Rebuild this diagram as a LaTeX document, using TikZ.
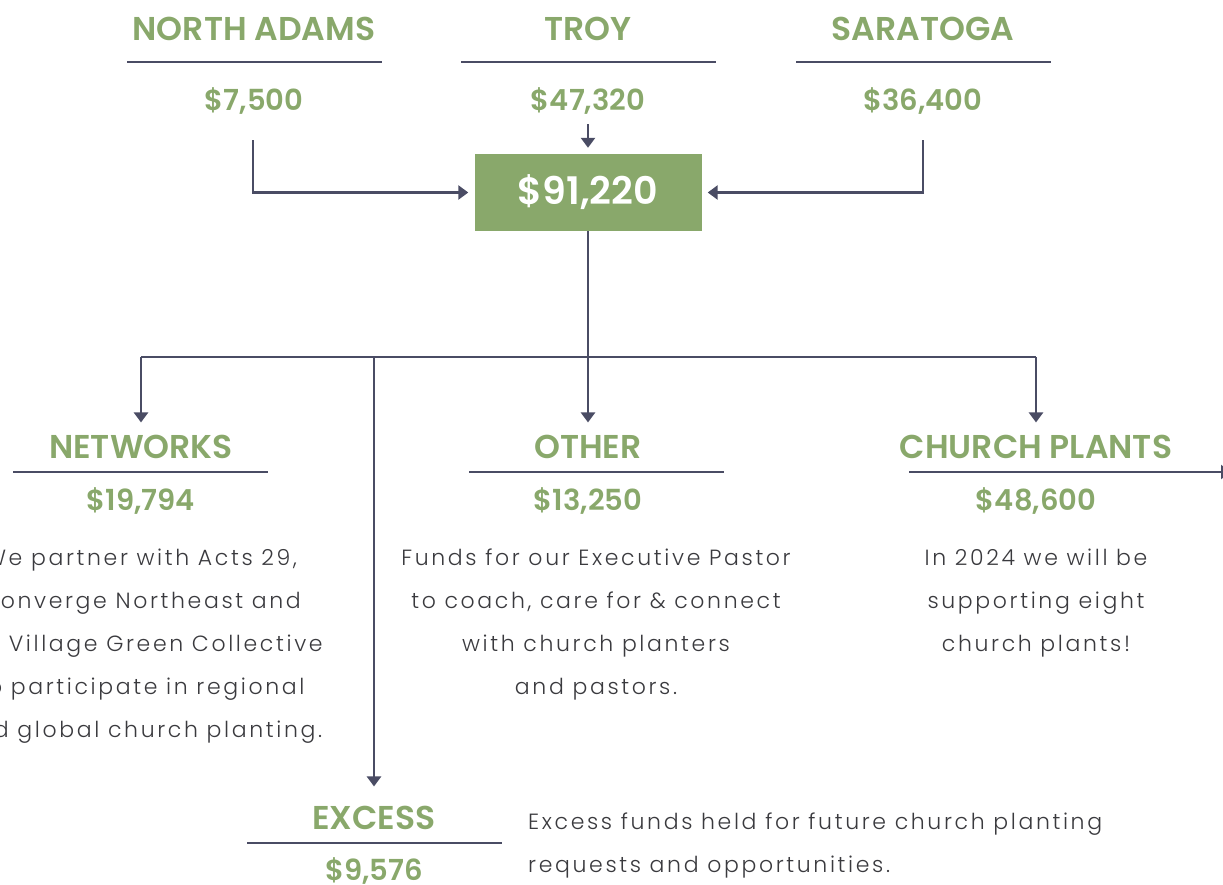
\documentclass[tikz,border=0pt]{standalone}
\usepackage{fontspec}
\setmainfont{Poppins}
\newfontfamily\headfont{Poppins SemiBold}
\newfontfamily\bodyfont{Poppins Light}[LetterSpace=12]
\usetikzlibrary{arrows.meta}

\definecolor{leafgreen}{RGB}{137,168,107}
\definecolor{slateline}{RGB}{74,76,100}
\definecolor{bodygray}{RGB}{58,58,62}

\tikzset{
  place/.style={font=\headfont\fontsize{33}{38}\selectfont, text=leafgreen, inner sep=0pt, anchor=base},
  amount/.style={font=\headfont\fontsize{29}{34}\selectfont, text=leafgreen, inner sep=0pt, anchor=base},
  note/.style={font=\bodyfont\fontsize{22}{43}\selectfont, text=bodygray, inner sep=0pt, align=center, anchor=north},
  rule/.style={draw=slateline, line width=2pt},
  flow/.style={draw=slateline, line width=2.5pt, -{Triangle[width=14pt,length=10pt]}},
}

\begin{document}
\begin{tikzpicture}[x=1pt,y=1pt,yscale=-1,xscale=1]
        \useasboundingbox (0,0) rectangle (1223,884);
        \clip (0,0) rectangle (1223,884);

        % Text Node
        \node [place] (northadams) at (254,40) {NORTH ADAMS};
        % Text Node
        \node [place] (troy) at (588,40) {TROY};
        % Text Node
        \node [place] (saratoga) at (923,40) {SARATOGA};
        %Straight Lines
        \draw [rule] (127,62) -- (382,62) ;
        \draw [rule] (461,62) -- (716,62) ;
        \draw [rule] (796,62) -- (1051,62) ;
        % Text Node
        \node [amount] (na-amt) at (254,110) {\$7,500};
        % Text Node
        \node [amount] (troy-amt) at (588,110) {\$47,320};
        % Text Node
        \node [amount] (sar-amt) at (923,110) {\$36,400};

        %Shape: Rectangle
        \node [fill=leafgreen, minimum width=227pt, minimum height=77pt, inner sep=0pt,
               text=white, font=\headfont\fontsize{38}{44}\selectfont] (total) at (588,192.5) {\$91,220};

        % corners of the connectors
        \coordinate (na-out) at (253,140);
        \coordinate (sar-out) at (923,140);
        \coordinate (troy-out) at (588,124);
        \coordinate (split) at (588,357);
        \coordinate (bus-l) at (141,357);
        \coordinate (bus-r) at (1036,357);
        \coordinate (bus-x) at (374,357);

        %Straight Lines
        \draw [flow, shorten >=6pt] (na-out) |- (total.west) ;
        \draw [flow, shorten >=6pt] (sar-out) |- (total.east) ;
        \draw [flow, shorten >=6pt] (troy-out) -- (total.north) ;
        \draw [rule, line width=2.5pt] (total.south) -- (split) ;
        \draw [rule, line width=2.5pt] (bus-l) -- (bus-r) ;

        % Text Node
        \node [place] (networks) at (141,458) {NETWORKS};
        % Text Node
        \node [place] (other) at (588,458) {OTHER};
        % Text Node
        \node [place] (plants) at (1036,458) {CHURCH PLANTS};
        % Text Node
        \node [place] (excess) at (374,829) {EXCESS};

        %Straight Lines
        \draw [flow] (bus-l) -- ([yshift=-12pt]networks.north) ;
        \draw [flow] (split) -- ([yshift=-12pt]other.north) ;
        \draw [flow] (bus-r) -- ([yshift=-12pt]plants.north) ;
        \draw [flow] (bus-x) -- ([yshift=-19pt]excess.north) ;

        \draw [rule] (13,472) -- (268,472) ;
        \draw [rule] (469,472) -- (724,472) ;
        \draw [rule, -{Triangle[width=14pt,length=10pt]}] (909,472) -- (1231,472) ;
        \draw [rule] (247,843) -- (502,843) ;

        % Text Node
        \node [amount] (net-amt) at (141,510) {\$19,794};
        % Text Node
        \node [amount] (oth-amt) at (588,510) {\$13,250};
        % Text Node
        \node [amount] (pl-amt) at (1036,510) {\$48,600};
        % Text Node
        \node [amount] (exc-amt) at (374,880) {\$9,576};

        % Text Node
        \node [note] (net-note) at (141,549) {We partner with Acts 29,\\Converge Northeast and\\the Village Green Collective\\to participate in regional\\and global church planting.};
        % Text Node
        \node [note] (oth-note) at (596,549) {Funds for our Executive Pastor\\to coach, care for \& connect\\with church planters\\and pastors.};
        % Text Node
        \node [note] (pl-note) at (1036,549) {In 2024 we will be\\supporting eight\\church plants!};
        % Text Node
        \node [note, align=left, anchor=north west] (exc-note) at (528,813) {Excess funds held for future church planting\\requests and opportunities.};

\end{tikzpicture}
\end{document}
